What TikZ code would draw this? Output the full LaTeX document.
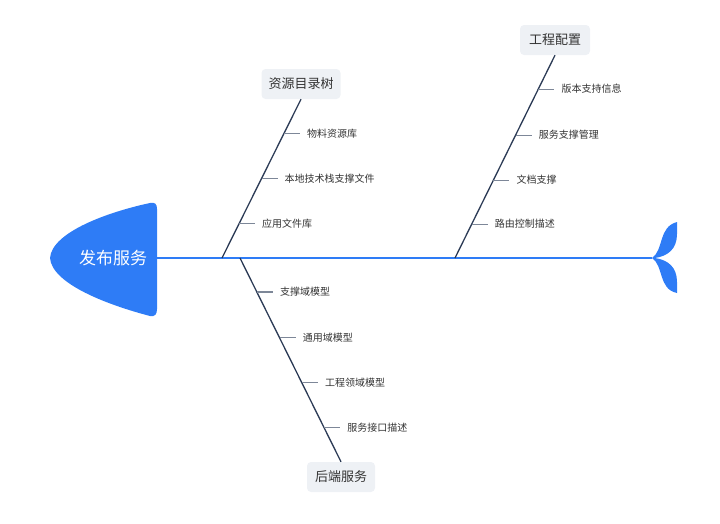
\documentclass[tikz,border=0pt]{standalone}
\usepackage{fontspec}
\setmainfont{Noto Sans CJK SC}
\usetikzlibrary{positioning,calc}

\definecolor{fishblue}{HTML}{2E7CF6}
\definecolor{bonedark}{HTML}{2B3A55}
\definecolor{tickgray}{HTML}{7D8798}
\definecolor{topicgray}{HTML}{EEF1F5}
\definecolor{textdark}{HTML}{333333}

\begin{document}
\begin{tikzpicture}[x=1pt, y=-1pt,
    topic/.style={fill=topicgray, rounded corners=4pt, minimum height=30pt,
        inner xsep=7pt, font=\fontsize{13}{13}\selectfont, text=textdark},
    item/.style={inner xsep=7pt, inner ysep=2pt,
        font=\fontsize{10}{10}\selectfont, text=textdark},
    bone/.style={line width=1.3pt, draw=bonedark},
    tick/.style={line width=1.1pt, draw=tickgray}]

    % Ramka
    \useasboundingbox (0,0) rectangle (720,523);

    % Głowa
    \fill[fishblue] (150,203) .. controls (108,212) and (52,232) .. (50,258)
        .. controls (52,284) and (108,305) .. (150,316)
        .. controls (155,317) and (157,314) .. (157,309) -- (157,209)
        .. controls (157,204) and (155,202) .. (150,203) -- cycle;
    \node[text=white, font=\fontsize{17}{17}\selectfont] (head) at (113,258) {发布服务};

    % Ogon
    \fill[fishblue] (652,258) .. controls (664,250) and (658,227) .. (677,222)
        -- (677,234) .. controls (677,249) and (668,256) .. (655,258) -- cycle;
    \fill[fishblue] (652,258) .. controls (664,266) and (658,289) .. (677,293)
        -- (677,282) .. controls (677,267) and (668,260) .. (655,258) -- cycle;

    % Kręgosłup
    \coordinate (spineL) at (157,258);
    \coordinate (spineR) at (652,258);
    \coordinate (r0) at (222,258);
    \coordinate (e0) at (455,258);
    \coordinate (b0) at (240,258);
    \draw[line width=1.4pt, fishblue] (spineL) -- (spineR);

    % Tematy
    \node[topic] (res) at (301,84) {资源目录树};
    \node[topic, inner xsep=9pt] (eng) at (555,40) {工程配置};
    \node[topic, inner xsep=8pt] (back) at (341,477) {后端服务};

    \draw[bone] (res.south) -- (r0);
    \draw[bone] (eng.south) -- (e0);
    \draw[bone] (b0) -- (back.north);

    % Resursy
    \coordinate (r1) at ($(res.south)!0.215!(r0)$);
    \coordinate (r2) at ($(res.south)!0.5!(r0)$);
    \coordinate (r3) at ($(res.south)!0.785!(r0)$);
    \node[item, right=16pt of r1] (r1l) {物料资源库};
    \node[item, right=16pt of r2] (r2l) {本地技术栈支撑文件};
    \node[item, right=16pt of r3] (r3l) {应用文件库};
    \draw[tick] (r1) -- (r1l.west);
    \draw[tick] (r2) -- (r2l.west);
    \draw[tick] (r3) -- (r3l.west);

    % Konfiguracja
    \coordinate (e1) at ($(eng.south)!0.167!(e0)$);
    \coordinate (e2) at ($(eng.south)!0.394!(e0)$);
    \coordinate (e3) at ($(eng.south)!0.616!(e0)$);
    \coordinate (e4) at ($(eng.south)!0.833!(e0)$);
    \node[item, right=16pt of e1] (e1l) {版本支持信息};
    \node[item, right=16pt of e2] (e2l) {服务支撑管理};
    \node[item, right=16pt of e3] (e3l) {文档支撑};
    \node[item, right=16pt of e4] (e4l) {路由控制描述};
    \draw[tick] (e1) -- (e1l.west);
    \draw[tick] (e2) -- (e2l.west);
    \draw[tick] (e3) -- (e3l.west);
    \draw[tick] (e4) -- (e4l.west);

    % Backend
    \coordinate (b1) at ($(b0)!0.167!(back.north)$);
    \coordinate (b2) at ($(b0)!0.392!(back.north)$);
    \coordinate (b3) at ($(b0)!0.613!(back.north)$);
    \coordinate (b4) at ($(b0)!0.833!(back.north)$);
    \node[item, right=16pt of b1] (b1l) {支撑域模型};
    \node[item, right=16pt of b2] (b2l) {通用域模型};
    \node[item, right=16pt of b3] (b3l) {工程领域模型};
    \node[item, right=16pt of b4] (b4l) {服务接口描述};
    \draw[tick] (b1) -- (b1l.west);
    \draw[tick] (b2) -- (b2l.west);
    \draw[tick] (b3) -- (b3l.west);
    \draw[tick] (b4) -- (b4l.west);
\end{tikzpicture}
\end{document}
